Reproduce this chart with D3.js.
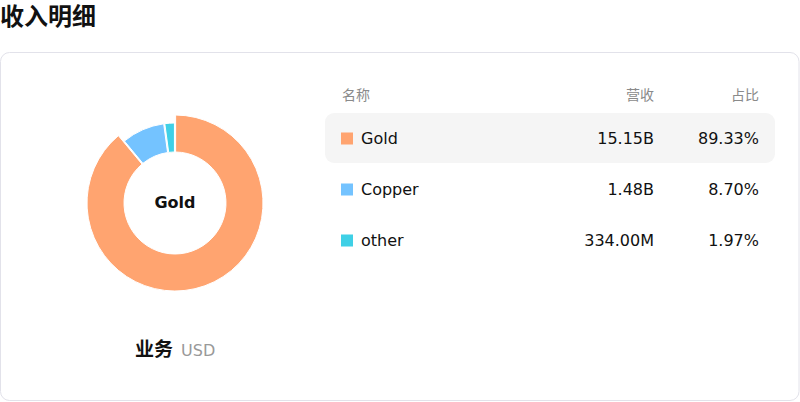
<!DOCTYPE html>
<html>
<head>
<meta charset="utf-8">
<script src="https://cdn.jsdelivr.net/npm/d3@7"></script>
<style>
  body { margin: 0; background: #fff; font-family: "DejaVu Sans", "Noto Sans CJK SC", sans-serif; }
</style>
</head>
<body>
<div id="chart"></div>
<script>
// data
var names = ["Gold", "Copper", "other"];
var revenue = [15.15e9, 1.48e9, 334.00e6];
var revenueLabels = ["15.15B", "1.48B", "334.00M"];
var shareLabels = ["89.33%", "8.70%", "1.97%"];
var colors = ["#FFA470", "#74C3FF", "#3FD0E6"];
var headers = ["名称", "营收", "占比"];

var width = 800, height = 402;
var font = "'DejaVu Sans', 'Noto Sans CJK SC', sans-serif";

var svg = d3.select("#chart")
            .append("svg")
            .attr("width", width)
            .attr("height", height)
            .style("font-family", font);

// page title
svg.append("text")
   .attr("x", 0)
   .attr("y", 25)
   .style("font-size", "24px")
   .style("font-weight", "bold")
   .style("fill", "#111")
   .text("收入明细");

// card
svg.append("rect")
   .attr("x", 0.5)
   .attr("y", 52.5)
   .attr("width", 798.5)
   .attr("height", 348)
   .attr("rx", 9)
   .style("fill", "#fff")
   .style("stroke", "#e2e2ea");

// donut
var cx = 175, cy = 203;
var pie = d3.pie().sort(null).padAngle(0.012);
var arcs = pie(revenue);

var arcBig = d3.arc().innerRadius(51).outerRadius(88);
var arcSmall = d3.arc().innerRadius(51).outerRadius(80);

var donut = svg.append("g")
               .attr("transform", "translate(" + cx + "," + cy + ")");

donut.selectAll(".slice")
     .data(arcs)
     .enter()
     .append("path")
     .attr("class", "slice")
     .attr("d", function(d, i) {
       return i === 0 ? arcBig(d) : arcSmall(d);
     })
     .style("fill", function(d, i) { return colors[i]; })
     .style("stroke", "#fff")
     .style("stroke-width", 1);

donut.append("text")
     .attr("y", 5)
     .attr("text-anchor", "middle")
     .style("font-size", "16px")
     .style("font-weight", "bold")
     .style("fill", "#111")
     .text(names[0]);

// footer under donut
var footer = svg.append("text")
                .attr("x", 135)
                .attr("y", 356);
footer.append("tspan")
      .style("font-size", "19px")
      .style("font-weight", "bold")
      .style("fill", "#111")
      .text("业务");
footer.append("tspan")
      .attr("dx", 8)
      .style("font-size", "16px")
      .style("fill", "#999")
      .text("USD");

// table
var rowScale = d3.scaleBand()
                 .domain(names)
                 .range([113, 266])
                 .paddingInner(0);

var colName = 342, colRevenue = 654, colShare = 759;

svg.append("text").attr("x", colName).attr("y", 100)
   .style("font-size", "14px").style("fill", "#8a8a8a").text(headers[0]);
svg.append("text").attr("x", colRevenue).attr("y", 100).attr("text-anchor", "end")
   .style("font-size", "14px").style("fill", "#8a8a8a").text(headers[1]);
svg.append("text").attr("x", colShare).attr("y", 100).attr("text-anchor", "end")
   .style("font-size", "14px").style("fill", "#8a8a8a").text(headers[2]);

var rows = svg.selectAll(".row")
              .data(names)
              .enter()
              .append("g")
              .attr("class", "row")
              .attr("transform", function(d) { return "translate(0," + rowScale(d) + ")"; });

rows.filter(function(d, i) { return i === 0; })
    .append("rect")
    .attr("x", 325)
    .attr("y", 0)
    .attr("width", 450)
    .attr("height", 50)
    .attr("rx", 9)
    .style("fill", "#f5f5f5");

var mid = 25;

rows.append("rect")
    .attr("x", 341)
    .attr("y", mid - 5.5)
    .attr("width", 12)
    .attr("height", 12)
    .style("fill", function(d, i) { return colors[i]; });

rows.append("text")
    .attr("x", 361)
    .attr("y", mid + 6)
    .style("font-size", "16px")
    .style("fill", "#111")
    .text(function(d) { return d; });

rows.append("text")
    .attr("x", colRevenue)
    .attr("y", mid + 6)
    .attr("text-anchor", "end")
    .style("font-size", "16px")
    .style("fill", "#111")
    .text(function(d, i) { return revenueLabels[i]; });

rows.append("text")
    .attr("x", colShare)
    .attr("y", mid + 6)
    .attr("text-anchor", "end")
    .style("font-size", "16px")
    .style("fill", "#111")
    .text(function(d, i) { return shareLabels[i]; });
</script>
</body>
</html>
